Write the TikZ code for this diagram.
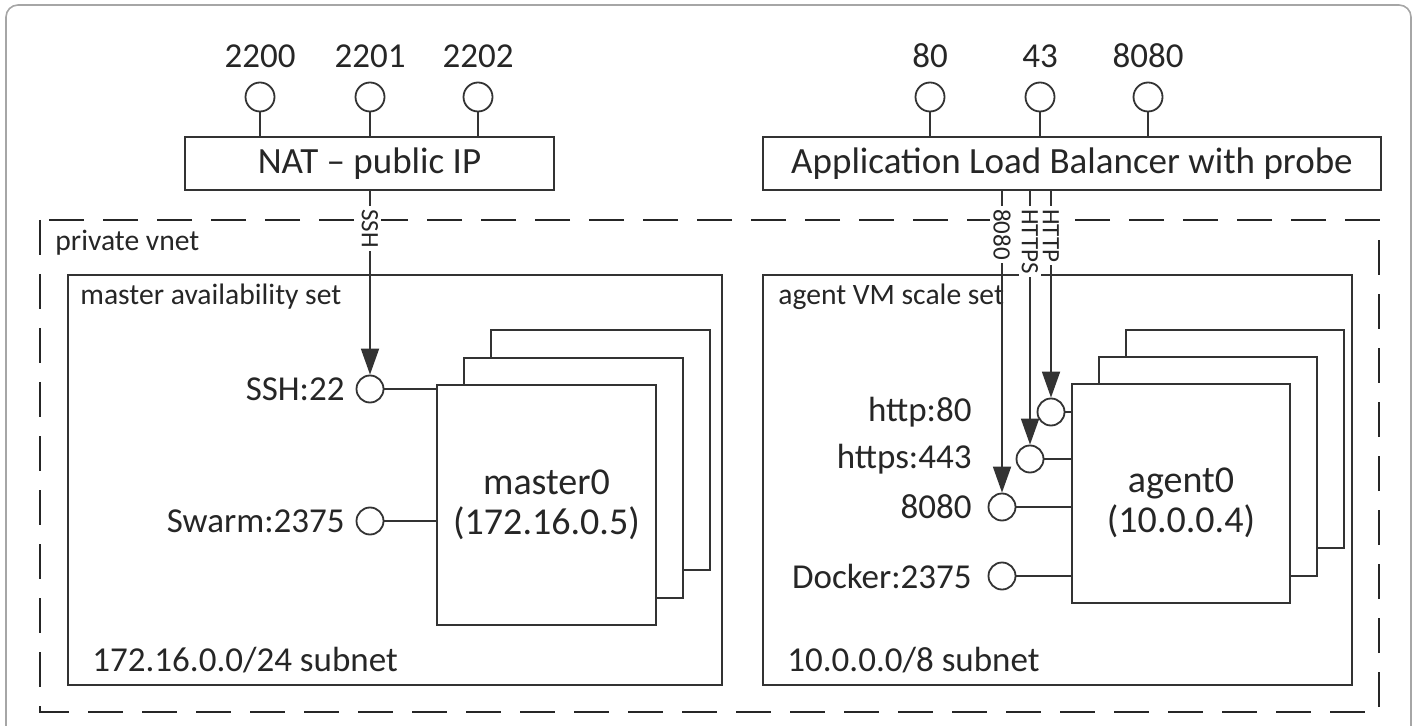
\documentclass[tikz,border=0pt]{standalone}
\usepackage{fontspec}
\setmainfont{Carlito}
\usetikzlibrary{arrows.meta,positioning}
\tikzset{
  wire/.style={draw=black!80,line width=0.9pt},
  box/.style={wire,fill=white},
  port/.style={circle,wire,fill=white,minimum size=13.5pt,inner sep=0pt},
  topport/.style={port,minimum size=14.5pt},
  arr/.style={wire,-{Triangle[length=13pt,width=9pt]}},
  txt/.style={inner sep=2pt,text=black!85},
  big/.style={txt,font=\fontsize{17.5}{21}\selectfont},
  boxtxt/.style={box,text=black!85,font=\fontsize{18.5}{22}\selectfont},
  small/.style={txt,font=\fontsize{14.8}{18}\selectfont},
  vmtxt/.style={txt,align=center,font=\fontsize{19}{20}\selectfont},
  vlabel/.style={rotate=-90,anchor=west,fill=white,inner sep=1.5pt,text=black!85,font=\fontsize{12.5}{14}\selectfont},
}
\begin{document}
\begin{tikzpicture}[x=0.5pt,y=-0.5pt]
	\useasboundingbox (0,0) rectangle (1416,726);
	\draw[black!35,line width=0.8pt,rounded corners=6pt] (6,5) rectangle (1411,760);
	% private vnet
	\draw[black!85,line width=1pt,dash pattern=on 17.5pt off 9.5pt] (40,220) rectangle (1379,712);
	\node[small,anchor=west] (vnet) at (51,243) {private vnet};
	% availability sets
	\draw[box] (68,275) rectangle (722,685);
	\draw[box] (763,275) rectangle (1352,685);
	\node[small,anchor=west] (mset) at (76,297) {master availability set};
	\node[small,anchor=west] (aset) at (774,297) {agent VM scale set};
	\node[big,anchor=west] (msub) at (88,660) {172.16.0.0/24 subnet};
	\node[big,anchor=west] (asub) at (783,660) {10.0.0.0/8 subnet};
	% front boxes
	\node[boxtxt,minimum width=184.5pt,minimum height=26.5pt] (nat) at (369.5,163.5) {NAT -- public IP};
	\node[boxtxt,minimum width=309pt,minimum height=26.5pt] (alb) at (1072,163.5) {Application Load Balancer with probe};
	% public ports
	\node[topport] (p2200) at (260,97) {};
	\node[topport] (p2201) at (370,97) {};
	\node[topport] (p2202) at (478,97) {};
	\node[topport] (p80) at (930,97) {};
	\node[topport] (p43) at (1040,97) {};
	\node[topport] (p8080) at (1148,97) {};
	\foreach \p/\t in {p2200/2200,p2201/2201,p2202/2202,p80/80,p43/43,p8080/8080}{
		\node[big,above=4.5pt of \p] (l\p) {\t};
		\draw[wire] (\p) -- (\p |- nat.north);
	}
	% master stack
	\draw[box] (491,330) rectangle (710,570);
	\draw[box] (464,358) rectangle (683,598);
	\node[box,minimum width=109.5pt,minimum height=120pt] (master) at (546.5,505) {};
	\node[vmtxt] (mastertxt) at (546.5,505) {master0\\(172.16.0.5)};
	\node[port] (ssh) at (370,389) {};
	\node[port] (swarm) at (370,521) {};
	\node[big,anchor=east] (lssh) at (349,389) {SSH:22};
	\node[big,anchor=east] (lswarm) at (349,521) {Swarm:2375};
	\draw[wire] (ssh) -- (ssh -| master.west);
	\draw[wire] (swarm) -- (swarm -| master.west);
	% agent stack
	\draw[box] (1126,330) rectangle (1344,548);
	\draw[box] (1099,357) rectangle (1317,576);
	\node[box,minimum width=109pt,minimum height=109.5pt] (agent) at (1181,493.5) {};
	\node[vmtxt] (agenttxt) at (1181,503) {agent0\\(10.0.0.4)};
	\node[port] (http) at (1051,412) {};
	\node[port] (https) at (1030,459) {};
	\node[port] (alt) at (1002,507) {};
	\node[port] (docker) at (1002,576) {};
	\node[big,anchor=east] (lhttp) at (976,412) {http:80};
	\node[big,anchor=east] (lhttps) at (976,459) {https:443};
	\node[big,anchor=east] (lalt) at (976,507) {8080};
	\node[big,anchor=east] (ldocker) at (976,576) {Docker:2375};
	\foreach \p in {http,https,alt,docker}
		\draw[wire] (\p) -- (\p -| agent.west);
	% traffic
	\draw[arr] (nat.south -| ssh) -- (ssh);
	\draw[arr] (alb.south -| alt) -- (alt);
	\draw[arr] (alb.south -| https) -- (https);
	\draw[arr] (alb.south -| http) -- (http);
	\path (nat.south -| ssh) ++(0,15) node[vlabel] (tssh) {SSH};
	\path (alb.south -| alt) ++(0,15) node[vlabel] (talt) {8080};
	\path (alb.south -| https) ++(0,15) node[vlabel] (thttps) {HTTPS};
	\path (alb.south -| http) ++(0,15) node[vlabel] (thttp) {HTTP};
\end{tikzpicture}
\end{document}
